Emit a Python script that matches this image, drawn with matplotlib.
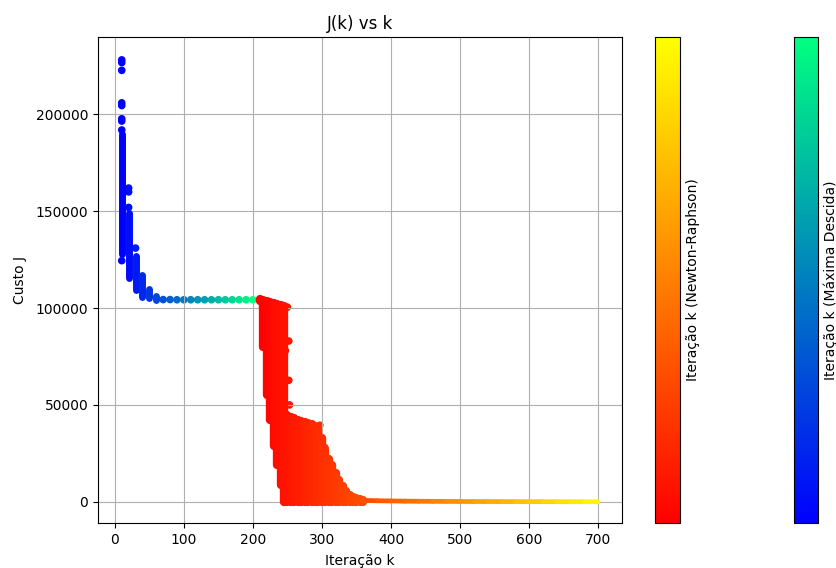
import matplotlib
matplotlib.use('Agg')
import matplotlib.pyplot as plt
from matplotlib.colors import Normalize
from matplotlib.collections import LineCollection
from matplotlib.cm import ScalarMappable

# Maxima Descida: dense columns (k, J min, J max)
md_col_k = [10, 20, 30, 40, 50, 60]
md_col_lo = [128000, 115500, 109500, 105500, 105000, 104200]
md_col_hi = [189700, 149000, 127000, 117000, 110000, 106000]

# Maxima Descida: isolated points
md_pt_k = [10, 10, 10, 10, 10, 10, 10, 10, 10, 20, 20, 20, 30,
           70, 80, 90, 100, 110, 120, 130, 140, 150, 160, 170, 180, 190, 200]
md_pt_j = [228200, 226800, 222800, 206000, 204600, 197800, 196600, 192000, 124500,
           162000, 160000, 152000, 131000,
           104400, 104400, 104300, 104300, 104300, 104300, 104300, 104300,
           104300, 104300, 104300, 104300, 104300, 104300]

# Newton-Raphson: upper column
nr_top_k = [210, 215, 220, 225, 230, 235, 240, 245]
nr_top_lo = [103500, 80000, 55000, 42000, 29000, 19000, 8700, 0]
nr_top_hi = [104600, 104200, 103700, 103200, 102700, 102200, 101700, 101200]

# Newton-Raphson: lower cloud
nr_low_k = [250, 255, 260, 265, 270, 275, 280, 285, 290, 295, 300, 305,
            310, 315, 320, 325, 330, 335, 340, 345, 350, 355, 360]
nr_low_lo = [0] * 23
nr_low_hi = [45000, 44000, 43000, 42000, 41500, 41000, 40500, 40000, 39000,
             37000, 33000, 27000, 22000, 19000, 15000, 11000, 8000, 5500,
             3500, 2500, 1800, 1400, 1000]

# Newton-Raphson: scattered points
nr_pt_k = [250, 252, 252, 253, 247, 304, 297]
nr_pt_j = [100500, 83000, 62700, 50000, 78000, 28000, 39500]

# Newton-Raphson: tail
tail_k = [360, 380, 400, 420, 440, 460, 480, 500, 520, 540, 560, 580,
          600, 620, 640, 660, 680, 700]
tail_j = [700, 500, 400, 300, 250, 200, 150, 120, 100, 80, 60, 50,
          40, 30, 20, 10, 5, 0]

md_cmap = plt.get_cmap('winter')
nr_cmap = plt.get_cmap('autumn')
md_norm = Normalize(vmin=10, vmax=200)
nr_norm = Normalize(vmin=210, vmax=700)

fig = plt.figure(figsize=(8.37, 5.68), dpi=100)
ax = fig.add_axes([0.117, 0.0792, 0.626, 0.8556])

vl = ax.vlines(md_col_k, md_col_lo, md_col_hi,
               colors=md_cmap(md_norm(md_col_k)), linewidths=5)
vl.set_capstyle('round')
ax.scatter(md_pt_k, md_pt_j, c=md_pt_k, cmap=md_cmap, norm=md_norm, s=20)

vl = ax.vlines(nr_top_k, nr_top_lo, nr_top_hi,
               colors=nr_cmap(nr_norm(nr_top_k)), linewidths=6)
vl.set_capstyle('round')
vl = ax.vlines(nr_low_k, nr_low_lo, nr_low_hi,
               colors=nr_cmap(nr_norm(nr_low_k)), linewidths=6)
vl.set_capstyle('round')
ax.scatter(nr_pt_k, nr_pt_j, c=nr_pt_k, cmap=nr_cmap, norm=nr_norm, s=20)

segs = [[(tail_k[i], tail_j[i]), (tail_k[i + 1], tail_j[i + 1])]
        for i in range(len(tail_k) - 1)]
lc = LineCollection(segs, colors=nr_cmap(nr_norm(tail_k[:-1])), linewidths=3.4)
lc.set_capstyle('round')
ax.add_collection(lc)

ax.set_xlim(-24.5, 734.5)
ax.set_ylim(-11000, 240000)
ax.grid(True)
ax.set_xlabel('Iteração k', labelpad=5)
ax.set_ylabel('Custo J', labelpad=6.5)
ax.set_title('J(k) vs k')

cax1 = fig.add_axes([0.7826, 0.0792, 0.0299, 0.8556])
cb1 = fig.colorbar(ScalarMappable(norm=nr_norm, cmap=nr_cmap), cax=cax1)
cb1.set_ticks([])
cb1.set_label('Iteração k (Newton-Raphson)')

cax2 = fig.add_axes([0.9486, 0.0792, 0.0287, 0.8556])
cb2 = fig.colorbar(ScalarMappable(norm=md_norm, cmap=md_cmap), cax=cax2)
cb2.set_ticks([])
cb2.set_label('Iteração k (Máxima Descida)')

fig.savefig('out.png', dpi=100)
